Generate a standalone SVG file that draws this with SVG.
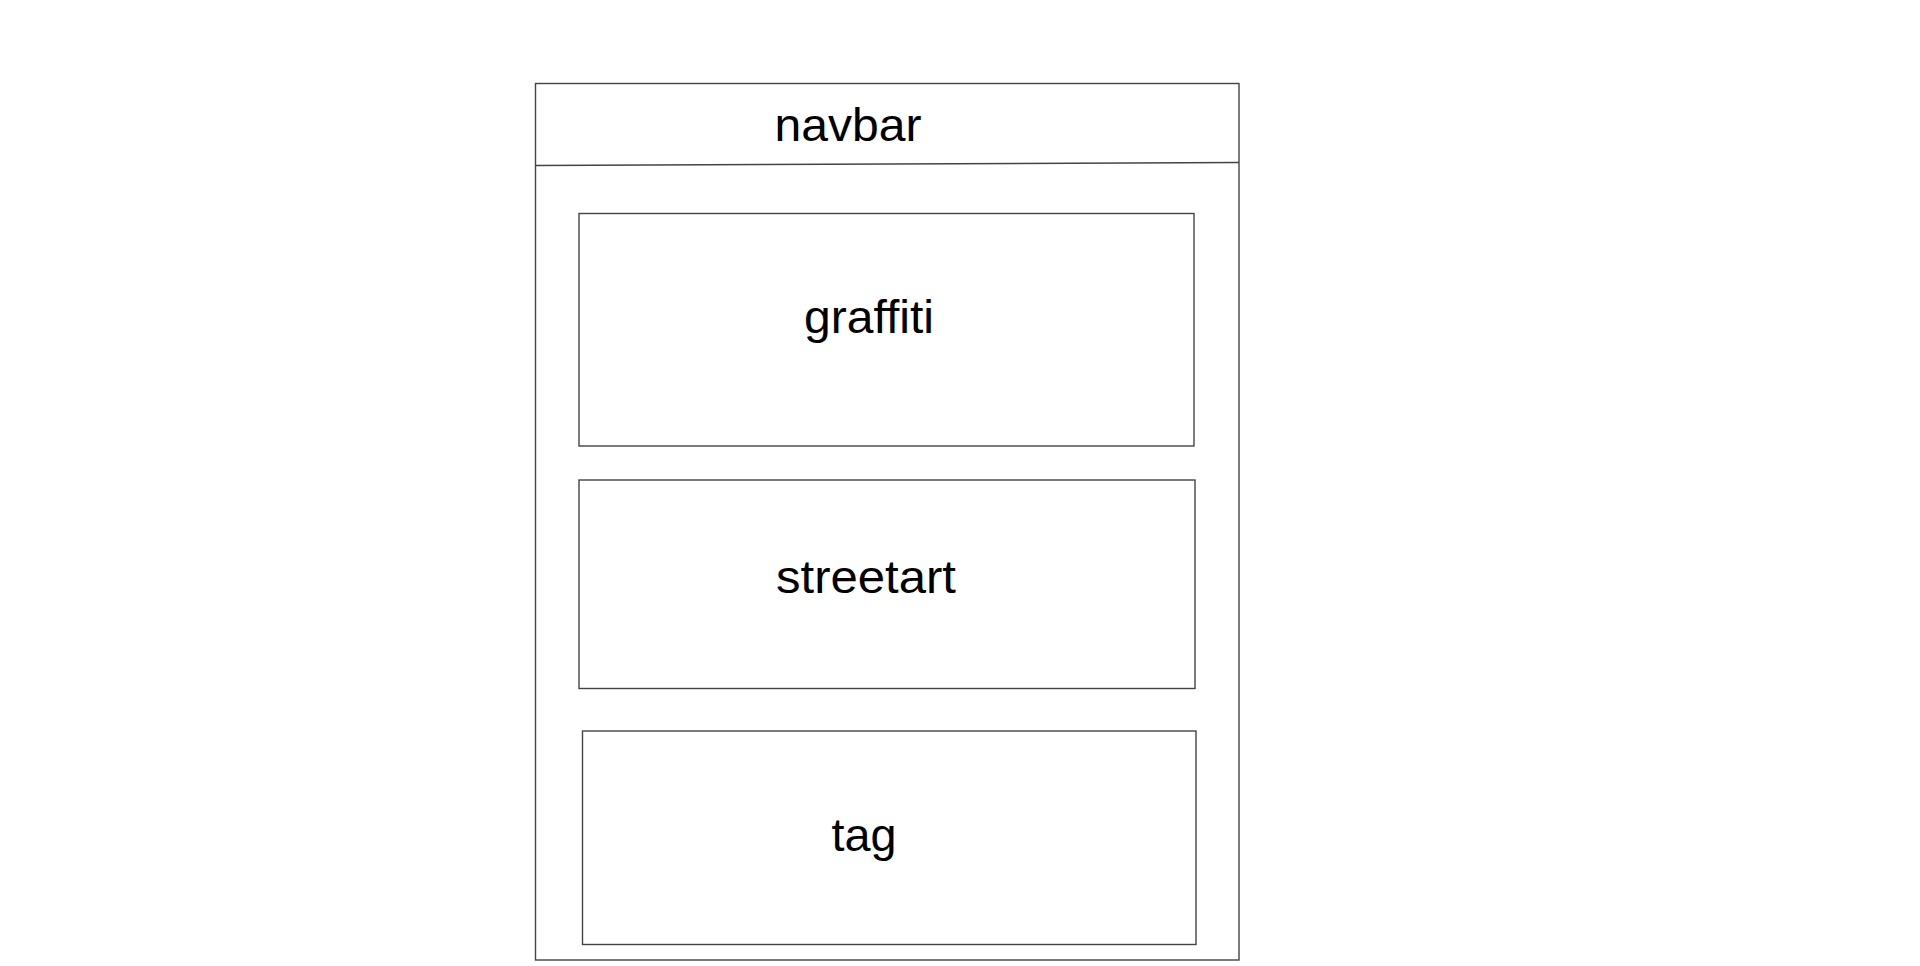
<svg xmlns="http://www.w3.org/2000/svg" width="1920" height="966" viewBox="0 0 1920 966">
  <style>
    .box { fill: none; stroke: #444; stroke-width: 1.4; }
    .lbl { font-family: "Liberation Sans", Arial, sans-serif; font-size: 46px; fill: #000; text-anchor: middle; }
  </style>
  <rect width="1920" height="966" fill="#fff"/>
  <g id="page">
    <rect class="box" x="535.5" y="83.5" width="703.5" height="876.5"/>
  </g>
  <g id="navbar">
    <path class="box" d="M535.5 165.5 L1239 162.5"/>
    <text class="lbl" x="848" y="141" textLength="147" lengthAdjust="spacingAndGlyphs">navbar</text>
  </g>
  <g id="graffiti">
    <rect class="box" x="579" y="213.5" width="615" height="232.5"/>
    <text class="lbl" x="869" y="333" textLength="130" lengthAdjust="spacingAndGlyphs">graffiti</text>
  </g>
  <g id="streetart">
    <rect class="box" x="579" y="480" width="616" height="208.5"/>
    <text class="lbl" x="866" y="593" textLength="180" lengthAdjust="spacingAndGlyphs">streetart</text>
  </g>
  <g id="tag">
    <rect class="box" x="582.5" y="731" width="613.5" height="213.5"/>
    <text class="lbl" x="864" y="851" textLength="65" lengthAdjust="spacingAndGlyphs">tag</text>
  </g>
  <g id="connectors"/>
</svg>
